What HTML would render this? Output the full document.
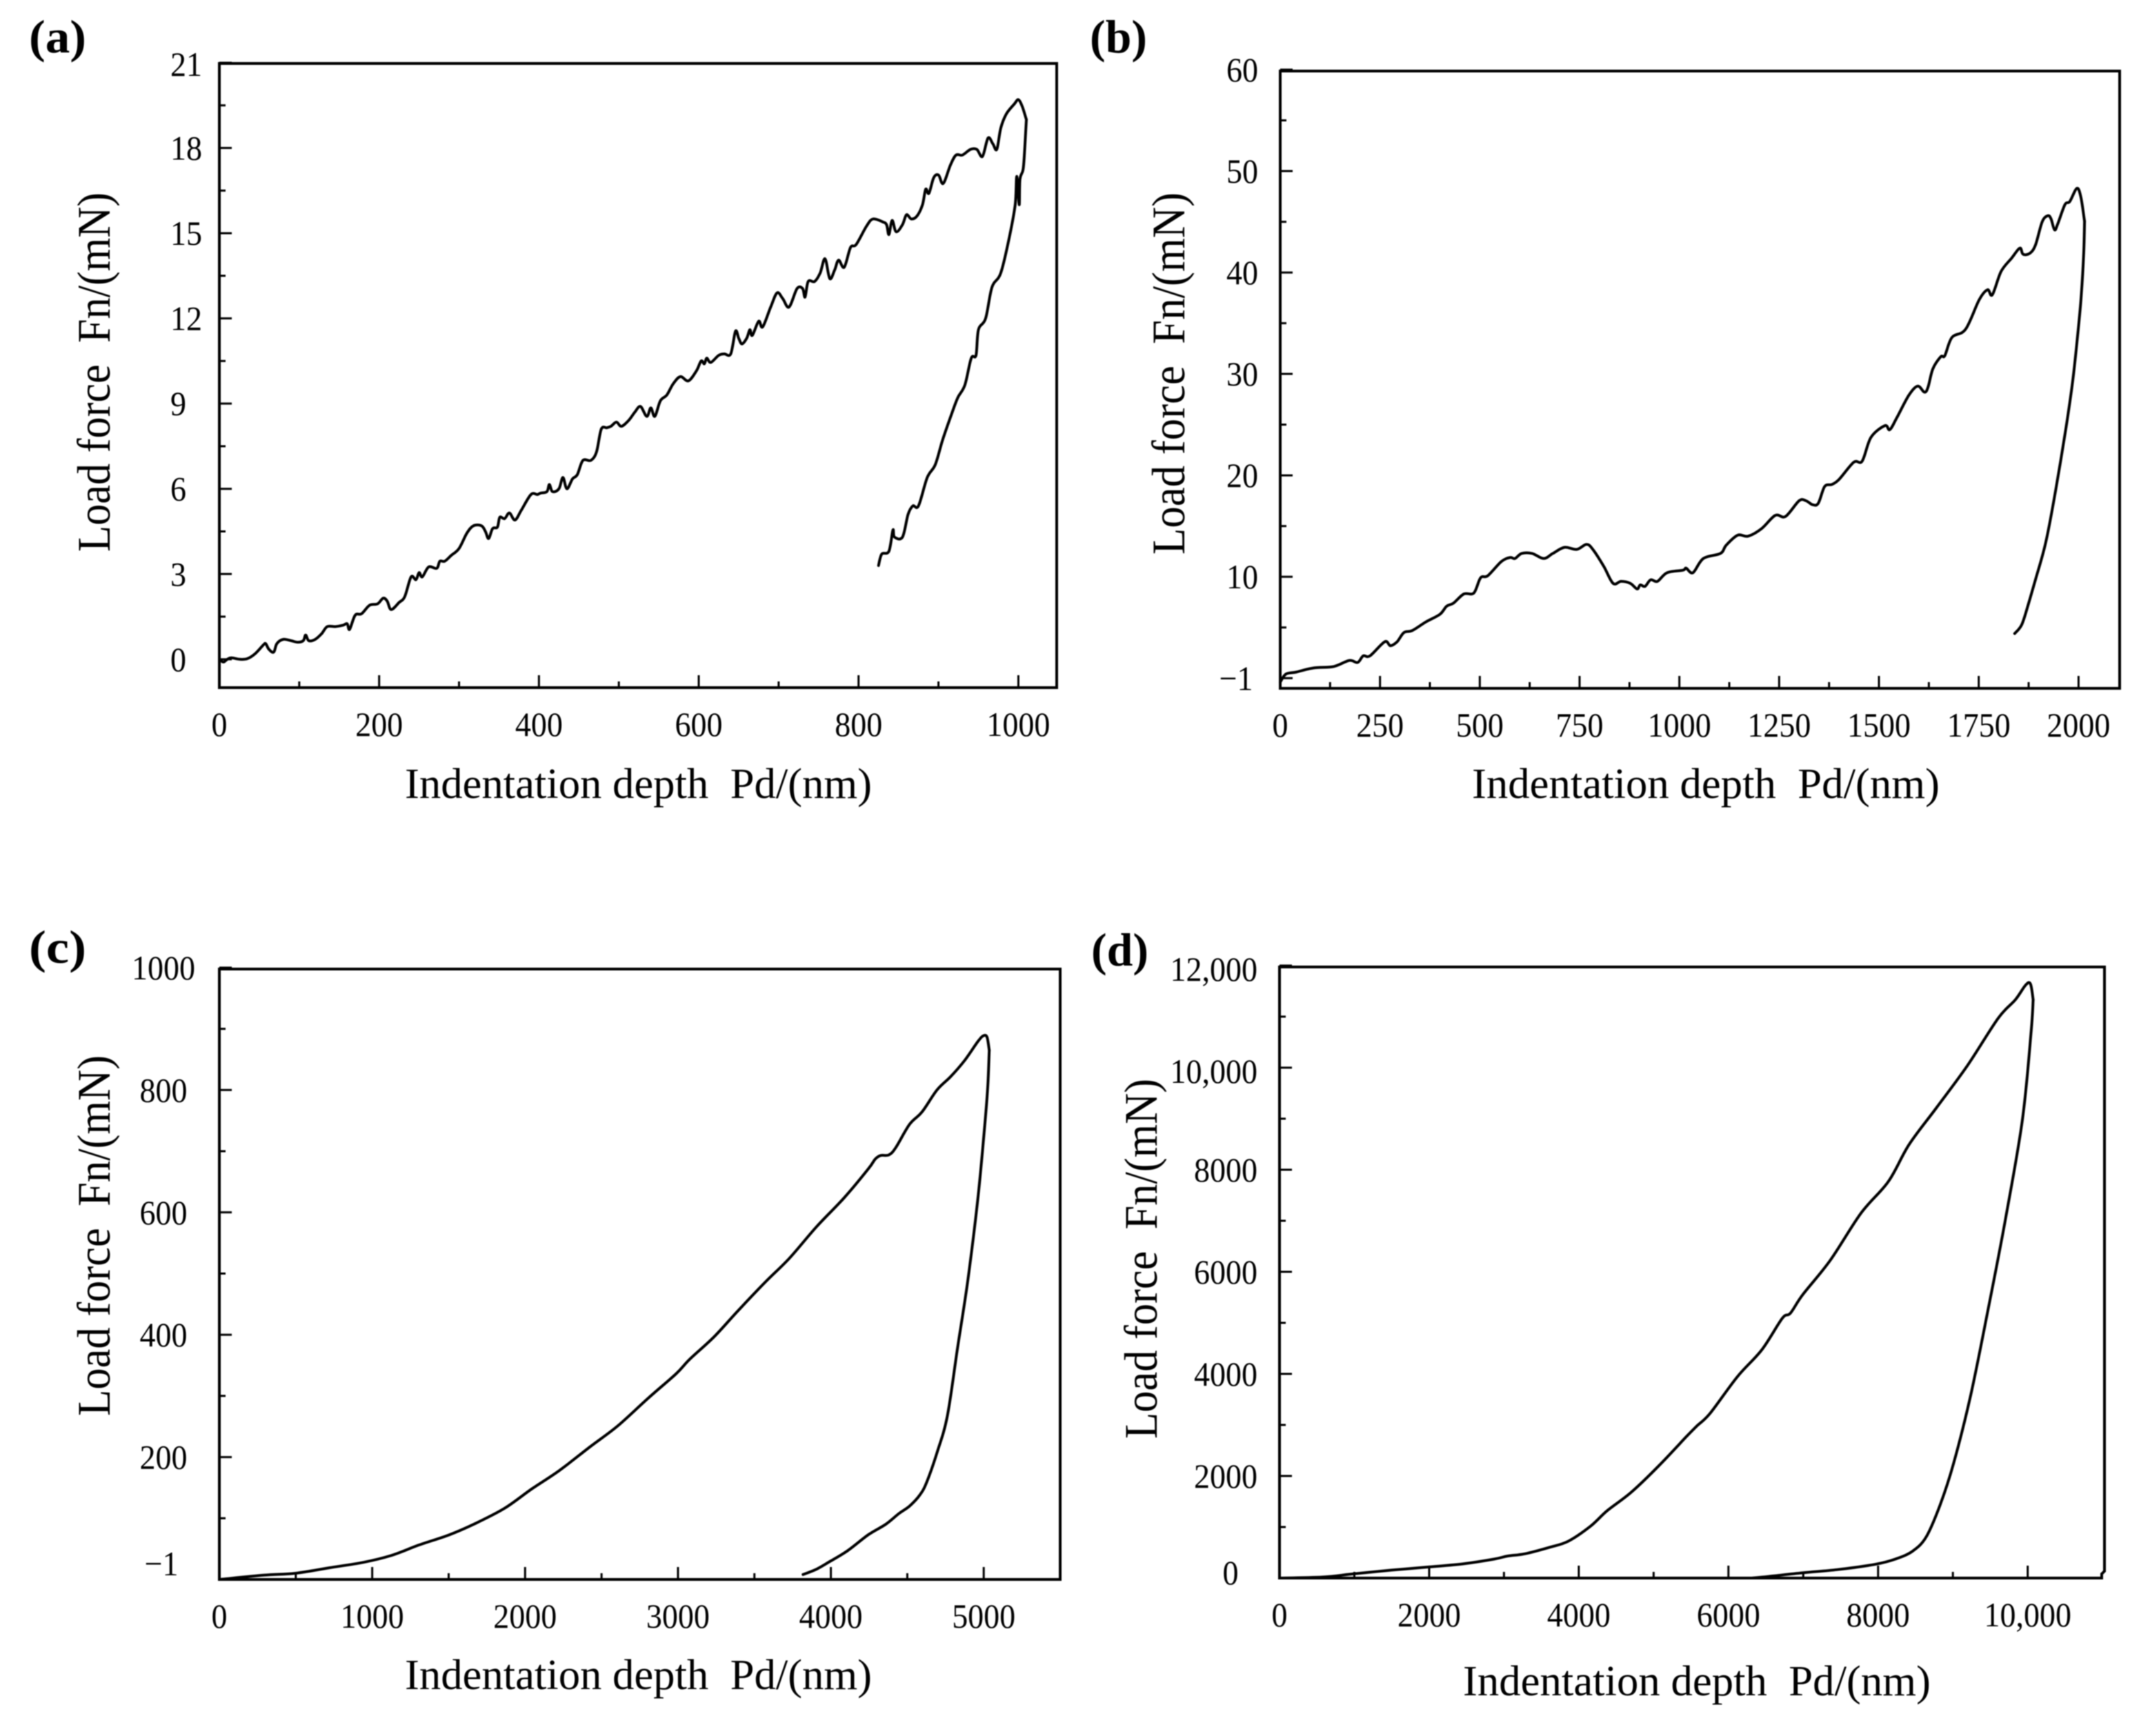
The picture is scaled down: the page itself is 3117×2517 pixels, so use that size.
<!DOCTYPE html>
<html lang="en">
<head>
<meta charset="utf-8">
<title>Load force vs indentation depth</title>
<style>
html,body{margin:0;padding:0;background:#fff;}
svg{display:block;}
text{font-family:"Liberation Serif",serif;fill:#000;white-space:pre;}
</style>
</head>
<body>
<svg id="fig" xmlns="http://www.w3.org/2000/svg" width="3117" height="2517" viewBox="0 0 3117 2517">
<defs><filter id="soft" x="-2%" y="-2%" width="104%" height="104%"><feGaussianBlur stdDeviation="0.7"/></filter></defs>
<rect width="3117" height="2517" fill="#fff"/>
<g id="root" filter="url(#soft)"></g>
</svg>
<script>
// Panel (a)
const aLoadDepth=[0,5,10,15,25,35,45,55,58,62,68,72,80,90,98,105,108,112,120,128,135,145,155,160,163,170,178,188,198,205,210,215,225,232,240,246,250,254,262,272,276,282,290,300,310,318,328,333,337,342,348,351,357,363,370,378,390,398,402,410,413,417,425,430,435,442,448,455,465,472,478,485,490,497,503,512,520,527,535,540,545,552,560,568,577,587,597,603,607,610,615,625,632,640,646,650,654,660,664,667,675,680,690,698,705,713,723,730,733,737,745,752,758,764,770,775,782,790,797,810,818,830,835,838,842,847,855,860,866,873,880,884,888,894,900,906,915,922,930,940,948,955,962,968,973,978,985,995,1000,1005,1010];
const aLoadForce=[0,-0.1,0,0.05,0,0.02,0.2,0.5,0.55,0.35,0.25,0.55,0.7,0.65,0.6,0.65,0.85,0.65,0.7,0.9,1.15,1.15,1.2,1.25,1.05,1.55,1.6,1.9,1.95,2.15,2.05,1.75,2,2.2,2.9,2.8,3.05,2.9,3.25,3.2,3.45,3.45,3.65,3.9,4.45,4.7,4.7,4.5,4.25,4.6,4.65,5,4.95,5.15,4.9,5.25,5.8,5.8,5.85,5.9,6.15,5.9,6,6.4,6,6.35,6.5,7,7,7.3,8.1,8.15,8.2,8.35,8.2,8.4,8.7,8.9,8.55,8.85,8.55,9.1,9.3,9.7,9.95,9.8,10.15,10.5,10.4,10.6,10.45,10.7,10.75,10.75,11.55,11.3,11.1,11.3,11.6,11.4,11.9,11.7,12.4,12.9,12.7,12.4,13.05,13.05,12.75,13.3,13.3,13.6,14.1,13.4,13.7,14.05,13.8,14.5,14.6,15.25,15.5,15.4,15.3,14.95,15.45,15.05,15.3,15.65,15.5,15.6,16,16.55,16.4,16.95,17.05,16.75,17.4,17.75,17.75,17.95,17.95,17.7,18.35,18.15,17.95,18.7,19.2,19.55,19.7,19.45,19];
const aUnloadDepth=[1010,1008,1006,1002,1001,998,996,989,978,967,959,950,947,941,933,924,916,905,896,886,875,868,862,855,845,843,838,829,825];
const aUnloadForce=[19,18,17.25,16.9,16,17,16,14.9,13.6,13.1,12,11.6,10.7,10.6,9.65,9.2,8.6,7.7,6.85,6.4,5.4,5.4,5.1,4.3,4.3,4.55,3.8,3.7,3.3];
const aXTicks=[0,200,400,600,800,1000];
const aXTickLabels=["0","200","400","600","800","1000"];
const aXMinor=[100,300,500,700,900];
const aYTicks=[0,3,6,9,12,15,18,21];
const aYTickLabels=["0","3","6","9","12","15","18","21"];
const aYMinor=[1.5,4.5,7.5,10.5,13.5,16.5,19.5];

// Panel (b)
const bLoadDepth=[0,14,40,82,134,173,194,208,225,262,276,293,310,331,365,400,417,434,460,485,502,520,554,576,588,605,631,660,683,712,743,768,785,811,834,854,877,894,902,914,928,945,969,1009,1017,1034,1060,1103,1117,1146,1172,1206,1240,1266,1300,1317,1334,1348,1364,1382,1400,1437,1458,1480,1515,1527,1545,1575,1597,1614,1623,1635,1655,1665,1683,1717,1751,1772,1784,1806,1832,1853,1861,1878,1892,1909,1923,1931,1940,1948,1966,1978,1996,2006,2015];
const bLoadForce=[-0.4,0.4,0.6,1,1.15,1.75,1.55,2.2,2.2,3.6,3.2,3.6,4.5,4.7,5.55,6.3,7.1,7.4,8.3,8.4,9.9,10.1,11.5,11.9,11.8,12.3,12.3,11.8,12.3,12.9,12.7,13.2,12.6,11,9.35,9.55,9.35,8.8,9.2,9.05,9.7,9.55,10.4,10.65,10.85,10.4,11.8,12.3,13.1,14.1,14,14.75,16.05,15.95,17.5,17.5,17.1,17.25,18.9,19.1,19.6,21.3,21.4,23.75,24.9,24.5,25.7,27.9,28.8,28.2,28.7,30.5,31.7,31.8,33.6,34.4,37.3,38.3,37.8,40.1,41.4,42.4,41.8,41.9,42.7,45,45.6,45.3,44.2,44.8,46.7,47,48.3,47.4,45.05];
const bUnloadDepth=[2015,2013,2007,2000,1986,1969,1943,1918,1892,1875,1858,1840];
const bUnloadForce=[45.05,41.9,37.8,34.7,29.5,24.8,18.6,13.4,9.7,7.4,5.3,4.4];
const bXTicks=[0,250,500,750,1000,1250,1500,1750,2000];
const bXTickLabels=["0","250","500","750","1000","1250","1500","1750","2000"];
const bXMinor=[125,375,625,875,1125,1375,1625,1875];
const bYTicks=[0,10,20,30,40,50,60];
const bYTickLabels=["\u22121","10","20","30","40","50","60"];
const bYMinor=[5,15,25,35,45,55];

// Panel (c)
const cLoadDepth=[0,292,494,719,943,1123,1303,1505,1662,1864,2044,2224,2426,2606,2808,2987,3077,3234,3392,3571,3729,3908,4088,4245,4290,4326,4380,4425,4515,4596,4694,4784,4874,4964,5000,5022,5036];
const cLoadForce=[0,7,10,19,28,39,56,73,90,116,148,178,217,251,297,336,360,396,439,486,525,577,624,671,687,693,694,706,744,764,800,822,848,880,889,886,865];
const cUnloadDepth=[5036,5027,5009,4964,4897,4829,4762,4694,4627,4582,4515,4447,4358,4245,4110,3998,3908,3818];
const cUnloadForce=[865,809,749,628,491,379,267,207,159,138,120,108,90,73,47,30,17,8];
const cXTicks=[0,1000,2000,3000,4000,5000];
const cXTickLabels=["0","1000","2000","3000","4000","5000"];
const cXMinor=[500,1500,2500,3500,4500];
const cYTicks=[0,200,400,600,800,1000];
const cYTickLabels=["\u22121","200","400","600","800","1000"];
const cYMinor=[100,300,500,700,900];

// Panel (d)
const dLoadDepth=[0,577,990,1494,1998,2456,2869,3052,3281,3602,3859,4152,4381,4702,5069,5435,5573,5756,6123,6444,6719,6829,6993,7360,7773,8139,8414,8781,9194,9606,9835,9973,10037,10073];
const dLoadForce=[0,20,83,155,217,279,372,433,475,599,722,1011,1321,1682,2198,2766,2972,3230,3952,4468,5088,5191,5552,6223,7152,7771,8493,9216,10041,10970,11331,11620,11641,11331];
const dUnloadDepth=[10073,10046,9927,9698,9468,9239,9010,8827,8643,8460,8231,7956,7452,6993,6535,6306];
const dUnloadForce=[11331,10712,8958,6997,5243,3591,2250,1424,805,526,372,268,165,103,31,0];
const dXTicks=[0,2000,4000,6000,8000,10000];
const dXTickLabels=["0","2000","4000","6000","8000","10,000"];
const dXMinor=[1000,3000,5000,7000,9000];
const dYTicks=[0,2000,4000,6000,8000,10000,12000];
const dYTickLabels=["0","2000","4000","6000","8000","10,000","12,000"];
const dYMinor=[1000,3000,5000,7000,9000,11000];

const xTitle="Indentation depth  Pd/(nm)";
const yTitle="Load force  Fn/(mN)";

const SVGNS="http://www.w3.org/2000/svg";
const root=document.getElementById("root");

function make(parent,tag,props){
  const e=document.createElementNS(SVGNS,tag);
  for(const k in props){e.setAttribute(k,props[k]);}
  parent.appendChild(e);
  return e;
}

function curvePath(xs,ys,sx,sy){
  const pts=xs.map((v,i)=>[sx(v),sy(ys[i])]);
  let d="M"+pts[0][0].toFixed(1)+" "+pts[0][1].toFixed(1);
  for(let i=0;i<pts.length-1;i++){
    const p0=pts[Math.max(i-1,0)],p1=pts[i],p2=pts[i+1],p3=pts[Math.min(i+2,pts.length-1)];
    const c1x=p1[0]+(p2[0]-p0[0])/6,c1y=p1[1]+(p2[1]-p0[1])/6;
    const c2x=p2[0]-(p3[0]-p1[0])/6,c2y=p2[1]-(p3[1]-p1[1])/6;
    d+="C"+c1x.toFixed(1)+" "+c1y.toFixed(1)+" "+c2x.toFixed(1)+" "+c2y.toFixed(1)+" "+p2[0].toFixed(1)+" "+p2[1].toFixed(1);
  }
  return d;
}

function drawPanel(p){
  const g=make(root,"g",{});
  
  
  const sx=v=>p.left+(v-p.x0)/(p.x1-p.x0)*(p.right-p.left);
  const sy=v=>p.yBot+(v-p.y0)/(p.y1-p.y0)*(p.yTop-p.yBot);

  const frameD=p.jog
    ? "M"+p.left+" "+p.top+"H"+p.right+"V"+(p.bottom-10)+"L"+(p.right-4)+" "+(p.bottom-6)+"V"+p.bottom+"H"+p.left+"Z"
    : "M"+p.left+" "+p.top+"H"+p.right+"V"+p.bottom+"H"+p.left+"Z";
  const frame=make(g,"path",{d:frameD,fill:"none",stroke:"#000","stroke-width":4});
  
  

  p.xTicks.forEach((v,i)=>{
    const t=make(g,"line",{x1:sx(v),x2:sx(v),y1:p.bottom,y2:p.bottom-18,stroke:"#000","stroke-width":3});
    
    
    const l=make(g,"text",{"text-anchor":"middle","font-size":50,transform:"translate("+sx(v)+","+(p.bottom+70)+") scale(0.92,1)"});
    l.textContent=p.xLabels[i];
    
    
  });
  p.xMinor.forEach(v=>{
    const t=make(g,"line",{x1:sx(v),x2:sx(v),y1:p.bottom,y2:p.bottom-9,stroke:"#000","stroke-width":3});
    
    
  });
  p.yTicks.forEach((v,i)=>{
    const y=sy(v);
    const t=make(g,"line",{x1:p.left,x2:p.left+18,y1:y,y2:y,stroke:"#000","stroke-width":3});
    
    
    const txt=p.yLabels[i];
    const pos=p.yLabelPos(txt,y);
    const l=make(g,"text",{"text-anchor":pos.anchor,"font-size":50,transform:"translate("+pos.x+","+(pos.y+17)+") scale(0.92,1)"});
    l.textContent=txt;
    
    
  });
  p.yMinor.forEach(v=>{
    const t=make(g,"line",{x1:p.left,x2:p.left+9,y1:sy(v),y2:sy(v),stroke:"#000","stroke-width":3});
    
    
  });

  const load=make(g,"path",{d:curvePath(p.loadX,p.loadY,sx,sy),fill:"none",stroke:"#000","stroke-width":4,"stroke-linejoin":"round","stroke-linecap":"round"});
  
  
  const unload=make(g,"path",{d:curvePath(p.unloadX,p.unloadY,sx,sy),fill:"none",stroke:"#000","stroke-width":4,"stroke-linejoin":"round","stroke-linecap":"round"});
  
  

  const xt=make(g,"text",{x:p.xTitleX,y:p.xTitleY,"font-size":62,textLength:p.xTitleLen,lengthAdjust:"spacingAndGlyphs"});
  xt.textContent=xTitle;
  
  
  const yt=make(g,"text",{"font-size":63,textLength:p.yTitleLen,lengthAdjust:"spacingAndGlyphs",transform:"translate("+p.yTitleX+","+p.yTitleY+") rotate(-90) scale(1,1.08)"});
  yt.textContent=yTitle;
  
  
  const pl=make(g,"text",{x:p.tagX,y:p.tagY,"font-size":68,"font-weight":"bold",textLength:83,lengthAdjust:"spacingAndGlyphs"});
  pl.textContent="("+p.id+")";
  
  
}

drawPanel({id:"a",left:318,right:1532,top:92,bottom:997,x0:0,x1:1048,y0:-1,y1:21,yBot:997,yTop:91,
  xTicks:aXTicks,xLabels:aXTickLabels,xMinor:aXMinor,yTicks:aYTicks,yLabels:aYTickLabels,yMinor:aYMinor,
  loadX:aLoadDepth,loadY:aLoadForce,unloadX:aUnloadDepth,unloadY:aUnloadForce,
  yLabelPos:(t,y)=>({x:247,y:y+(t==="21"?2:0),anchor:"start"}),
  xTitleX:587,xTitleY:1157,xTitleLen:677,yTitleX:159,yTitleY:800,yTitleLen:521,tagX:42,tagY:76});
drawPanel({id:"b",left:1856,right:3073,top:103,bottom:998,x0:0,x1:2103,y0:-1,y1:60,yBot:998,yTop:101,
  xTicks:bXTicks,xLabels:bXTickLabels,xMinor:bXMinor,yTicks:bYTicks,yLabels:bYTickLabels,yMinor:bYMinor,
  loadX:bLoadDepth,loadY:bLoadForce,unloadX:bUnloadDepth,unloadY:bUnloadForce,
  yLabelPos:(t,y)=>({x:t==="\u22121"?1792:1801,y:y,anchor:"middle"}),
  xTitleX:2134,xTitleY:1157,xTitleLen:678,yTitleX:1717,yTitleY:804,yTitleLen:525,tagX:1580,tagY:76});
drawPanel({id:"c",left:318,right:1537,top:1405,bottom:2290,x0:0,x1:5500,y0:0,y1:1000,yBot:2290,yTop:1403,
  xTicks:cXTicks,xLabels:cXTickLabels,xMinor:cXMinor,yTicks:cYTicks,yLabels:cYTickLabels,yMinor:cYMinor,
  loadX:cLoadDepth,loadY:cLoadForce,unloadX:cUnloadDepth,unloadY:cUnloadForce,
  yLabelPos:(t,y)=>({x:t==="\u22121"?234:237,y:t==="\u22121"?y-23:y,anchor:"middle"}),
  xTitleX:587,xTitleY:2449,xTitleLen:677,yTitleX:159,yTitleY:2053,yTitleLen:523,tagX:42,tagY:1396});
drawPanel({id:"d",jog:true,left:1855,right:3051,top:1402,bottom:2288,x0:0,x1:11026,y0:0,y1:12000,yBot:2288,yTop:1400,
  xTicks:dXTicks,xLabels:dXTickLabels,xMinor:dXMinor,yTicks:dYTicks,yLabels:dYTickLabels,yMinor:dYMinor,
  loadX:dLoadDepth,loadY:dLoadForce,unloadX:dUnloadDepth,unloadY:dUnloadForce,
  yLabelPos:(t,y)=>t.length>1?{x:1823,y:y+(t.indexOf(",")>=0?5:0),anchor:"end"}:{x:1784,y:y-8,anchor:"middle"},
  xTitleX:2121,xTitleY:2458,xTitleLen:678,yTitleX:1677,yTitleY:2086,yTitleLen:522,tagX:1582,tagY:1400});
</script>
</body>
</html>
